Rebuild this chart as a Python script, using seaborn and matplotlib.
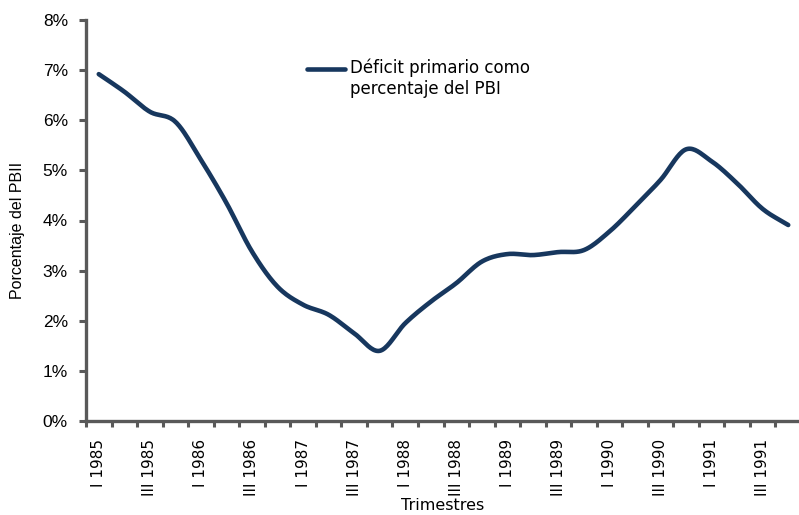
import numpy as np
import pandas as pd
import matplotlib
matplotlib.use("Agg")
import matplotlib.pyplot as plt
from matplotlib.legend_handler import HandlerLine2D
from matplotlib.lines import Line2D
import seaborn as sns

years = [1985, 1986, 1987, 1988, 1989, 1990, 1991]
quarters = ["I", "II", "III", "IV"]
categories = [f"{q} {y}" for y in years for q in quarters]
deficit = [6.92, 6.57, 6.17, 5.97, 5.21, 4.35, 3.38, 2.68, 2.32, 2.12,
           1.75, 1.40, 1.95, 2.38, 2.75, 3.18, 3.33, 3.31, 3.37, 3.41,
           3.78, 4.28, 4.81, 5.42, 5.18, 4.74, 4.23, 3.91]
series_name = "Déficit primario como\npercentaje del PBI"
y_ticks = [0, 1, 2, 3, 4, 5, 6, 7, 8]

sns.set_theme(style="white")
plt.rcParams['font.family'] = ['Liberation Sans', 'DejaVu Sans']
plt.rcParams['text.color'] = 'black'
plt.rcParams['axes.labelcolor'] = 'black'
plt.rcParams['xtick.color'] = 'black'
plt.rcParams['ytick.color'] = 'black'

# Catmull-Rom smoothing for rendering (like Excel smoothed line)
def smooth(xv, yv, n=20):
    xv = np.asarray(xv, float); yv = np.asarray(yv, float)
    px = np.concatenate([[2*xv[0]-xv[1]], xv, [2*xv[-1]-xv[-2]]])
    py = np.concatenate([[2*yv[0]-yv[1]], yv, [2*yv[-1]-yv[-2]]])
    ox, oy = [], []
    for i in range(1, len(px)-2):
        t = np.linspace(0, 1, n, endpoint=False)
        for arr, out in ((px, ox), (py, oy)):
            p0, p1, p2, p3 = arr[i-1], arr[i], arr[i+1], arr[i+2]
            out.extend(0.5*((2*p1) + (-p0+p2)*t + (2*p0-5*p1+4*p2-p3)*t**2 + (-p0+3*p1-3*p2+p3)*t**3))
    ox.append(xv[-1]); oy.append(yv[-1])
    return np.array(ox), np.array(oy)

xs, ys = smooth(np.arange(len(deficit)), deficit)
df = pd.DataFrame({"x": xs, "y": ys, "s": series_name})

fig = plt.figure(figsize=(7.99, 5.15), dpi=100)
ax = fig.add_axes([86/799, 1-421/515, 715/799, 401/515])
sns.lineplot(data=df, x="x", y="y", hue="s", palette=["#17375E"], lw=3.3,
             ax=ax, sort=False, estimator=None)

ax.set_xlim(-0.5, len(categories)-0.5)
ax.set_ylim(0, 8)
ax.set_yticks(y_ticks)
ax.set_yticklabels([f"{v}%" for v in y_ticks], fontsize=12.5)

# category boundary ticks (major) and label positions (minor)
ax.set_xticks(np.arange(-0.5, len(categories), 1))
ax.set_xticklabels([])
lab_pos = np.arange(0, len(categories), 2)
ax.set_xticks(lab_pos, minor=True)
ax.set_xticklabels([categories[i] for i in lab_pos], minor=True, rotation=90,
                   fontsize=11, family=['DejaVu Sans'])
ax.tick_params(axis="x", which="major", direction="out", length=4, width=2.2,
               color="#595959", bottom=True)
ax.tick_params(axis="x", which="minor", length=0, pad=13, bottom=True)
ax.tick_params(axis="y", direction="out", length=5, width=2.2, color="#595959",
               left=True, pad=8)

for side in ["top", "right"]:
    ax.spines[side].set_visible(False)
for side in ["left", "bottom"]:
    ax.spines[side].set_color("#595959")
    ax.spines[side].set_linewidth(2.4)

ax.set_xlabel("Trimestres", fontsize=11.5, family=['DejaVu Sans'])
ax.xaxis.set_label_coords((443-86)/715, (421-498)/401)
ax.set_ylabel("Porcentaje del PBII", fontsize=11.5)
ax.yaxis.set_label_coords((25-86)/715, (421-230)/401)


class TopHandler(HandlerLine2D):
    def create_artists(self, legend, orig_handle, xdescent, ydescent, width,
                       height, fontsize, trans):
        arts = super().create_artists(legend, orig_handle, xdescent, ydescent,
                                      width, height, fontsize, trans)
        for a in arts:
            if isinstance(a, Line2D):
                a.set_ydata(np.asarray(a.get_ydata()) + 0.62 * fontsize)
        return arts


handles, labels = ax.get_legend_handles_labels()
leg = ax.legend(handles, labels, loc="upper left",
                bbox_to_anchor=((300-86)/715, (421-52)/401),
                frameon=False, fontsize=12, handlelength=2.3, handletextpad=0.3,
                borderaxespad=0, handler_map={Line2D: TopHandler()})
for t in leg.get_texts():
    t.set_family(['DejaVu Sans'])

fig.savefig("out.png", dpi=100)
